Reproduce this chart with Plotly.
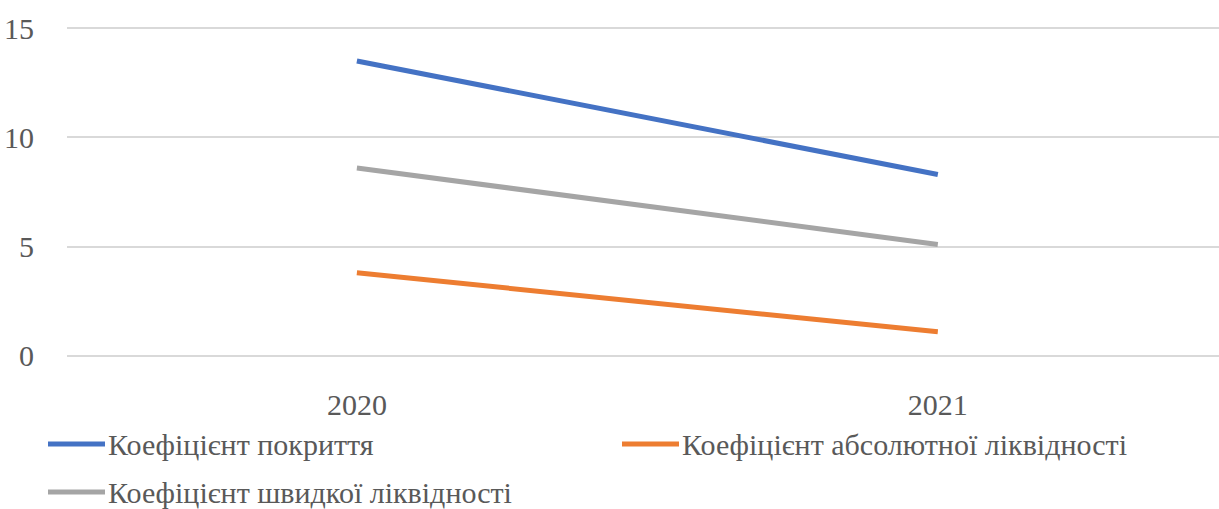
import plotly.graph_objects as go

# Liquidity ratios by year
years = ["2020", "2021"]
series_names = [
    "Коефіцієнт покриття",
    "Коефіцієнт абсолютної ліквідності",
    "Коефіцієнт швидкої ліквідності",
]
coverage_ratio = [13.5, 8.3]
absolute_liquidity = [3.8, 1.1]
quick_liquidity = [8.6, 5.1]
y_ticks = [0, 5, 10, 15]

series_values = [coverage_ratio, absolute_liquidity, quick_liquidity]
colors = ["#4472C4", "#ED7D31", "#A5A5A5"]

FONT = "Liberation Serif"
TEXT_COLOR = "#595959"
FONT_SIZE = 30
W, H = 1219, 509

margin_l, margin_r, margin_t, margin_b = 67, 0, 26, 151
plot_w = W - margin_l - margin_r
plot_h = H - margin_t - margin_b


def px_to_paper_x(px):
    return (px - margin_l) / plot_w


def px_to_paper_y(py):
    return (H - margin_b - py) / plot_h


text_font = dict(family=FONT, size=FONT_SIZE, color=TEXT_COLOR)

fig = go.Figure()
for name, vals, col in zip(series_names, series_values, colors):
    fig.add_trace(go.Scatter(
        x=years, y=vals, name=name, mode="lines",
        line=dict(color=col, width=5),
        showlegend=False,
    ))

# Legend drawn as swatch lines plus labels, two columns
legend_pos = [(48, 444), (622, 444), (48, 492)]
line_len = 57
for name, col, (lx, ly) in zip(series_names, colors, legend_pos):
    fig.add_shape(
        type="line", xref="paper", yref="paper",
        x0=px_to_paper_x(lx), x1=px_to_paper_x(lx + line_len),
        y0=px_to_paper_y(ly), y1=px_to_paper_y(ly),
        line=dict(color=col, width=5),
    )
    fig.add_annotation(
        xref="paper", yref="paper",
        x=px_to_paper_x(lx + line_len + 1), y=px_to_paper_y(ly),
        text=name, showarrow=False, xanchor="left", yanchor="middle",
        font=text_font,
    )

fig.update_layout(
    width=W, height=H,
    margin=dict(l=margin_l, r=margin_r, t=margin_t, b=margin_b),
    paper_bgcolor="white", plot_bgcolor="white",
    font=text_font,
)
# Invisible ticks push the tick labels away from the plot area
fig.update_xaxes(
    type="category", range=[-0.499, 1.484],
    showgrid=False, showline=False, zeroline=False,
    ticks="outside", ticklen=20, tickcolor="rgba(0,0,0,0)",
    tickfont=text_font,
)
fig.update_yaxes(
    range=[-0.1, 15.1], tickvals=y_ticks,
    showgrid=True, gridcolor="#D9D9D9", gridwidth=1.5,
    zeroline=False, showline=False,
    ticks="outside", ticklen=26, tickcolor="rgba(0,0,0,0)",
    tickfont=text_font,
)

fig.write_html("out.html")
